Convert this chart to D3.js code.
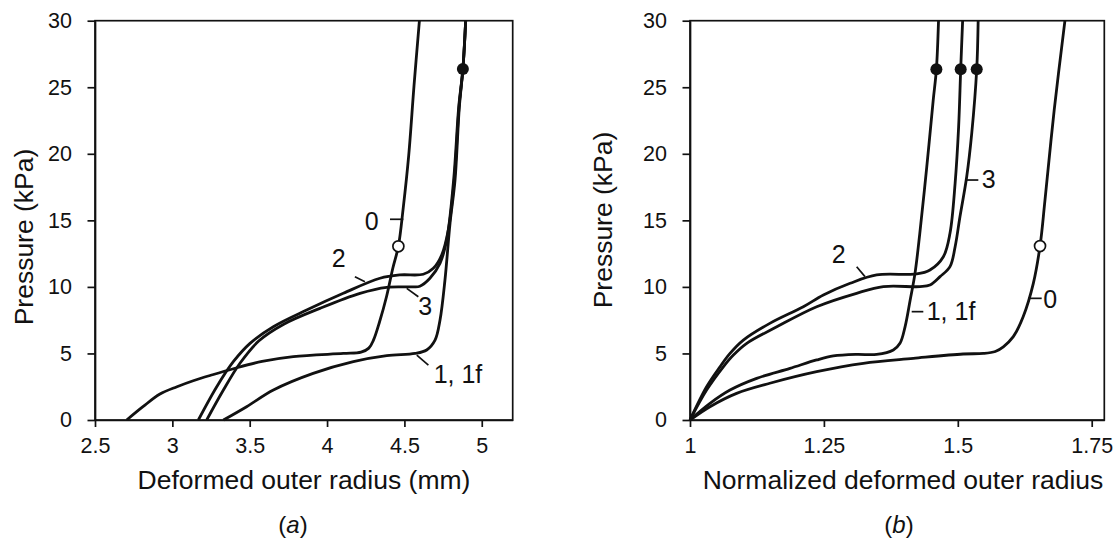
<!DOCTYPE html>
<html>
<head>
<meta charset="utf-8">
<script src="https://cdn.jsdelivr.net/npm/d3@7"></script>
<style>
  html, body { margin: 0; padding: 0; background: #fff; }
  text { font-family: "Liberation Sans", Arial, sans-serif; fill: #111; }
</style>
</head>
<body>
<div id="chart"></div>
<script>
// ---- data: [radius, pressure kPa] ----
// panel (a): deformed outer radius (mm)
const a0 = [[2.705,0],[2.81,1.0],[2.92,1.95],[3.03,2.5],[3.135,2.95],[3.26,3.4],[3.394,3.85],[3.58,4.4],[3.782,4.76],[4.105,5.0],[4.22,5.1],[4.27,5.4],[4.30,6.0],[4.34,7.4],[4.385,9.3],[4.425,11.4],[4.461,13.05],[4.493,16.0],[4.528,19.9],[4.562,25.1],[4.597,30]];
const a1 = [[3.33,0],[3.48,1.0],[3.653,2.25],[3.91,3.5],[4.17,4.38],[4.386,4.83],[4.569,5.0],[4.644,5.26],[4.698,6.0],[4.73,7.5],[4.762,10.5],[4.795,14.8],[4.827,18],[4.855,23.5],[4.878,26.37],[4.896,30]];
const a2 = [[3.168,0],[3.287,2.5],[3.394,4.38],[3.502,5.76],[3.653,7.01],[3.868,8.26],[4.105,9.52],[4.342,10.65],[4.471,10.9],[4.622,10.95],[4.687,11.4],[4.741,12.4],[4.784,14.3],[4.822,18],[4.853,23.5],[4.878,26.37],[4.896,30]];
const a3 = [[3.222,0],[3.33,2.25],[3.437,4.26],[3.56,5.95],[3.72,7.2],[3.954,8.39],[4.213,9.52],[4.386,9.97],[4.558,10.0],[4.60,10.05],[4.665,10.65],[4.73,11.77],[4.773,13.5],[4.818,18],[4.851,23.5],[4.878,26.37],[4.896,30]];
const aOpen = [[4.461,13.05]];
const aFilled = [[4.878,26.37]];

// panel (b): normalized deformed outer radius
const b0 = [[1,0],[1.0373,1.0],[1.087,2.0],[1.149,2.76],[1.2365,3.63],[1.3236,4.26],[1.417,4.63],[1.51,4.96],[1.5476,5.0],[1.57,5.15],[1.585,5.5],[1.6036,6.26],[1.622,7.76],[1.641,10.27],[1.6535,13.07],[1.6627,16.5],[1.68,23.3],[1.70,30]];
const b1 = [[1,0],[1.0373,1.25],[1.0747,2.25],[1.1245,3.13],[1.1867,3.88],[1.2365,4.51],[1.2676,4.81],[1.311,4.93],[1.3485,4.93],[1.3796,5.26],[1.392,5.76],[1.4015,7.0],[1.411,9.0],[1.42,11.0],[1.429,14.0],[1.442,19.0],[1.454,24.0],[1.46,26.35],[1.464,30]];
const b2 = [[1,0],[1.031,2.5],[1.056,4.0],[1.0747,5.0],[1.0996,6.0],[1.149,7.26],[1.2116,8.51],[1.249,9.39],[1.299,10.27],[1.3485,10.9],[1.4232,10.97],[1.448,11.27],[1.473,12.27],[1.4854,14.03],[1.495,17.8],[1.5015,22.0],[1.5054,26.35],[1.509,30]];
const b3 = [[1,0],[1.031,2.25],[1.0622,4.0],[1.081,4.88],[1.106,5.76],[1.162,7.0],[1.2365,8.51],[1.311,9.52],[1.361,10.02],[1.4294,10.02],[1.448,10.14],[1.4668,10.77],[1.4854,11.52],[1.495,13.02],[1.504,15.27],[1.5166,18.28],[1.526,21.54],[1.5353,26.35],[1.538,30]];
const bOpen = [[1.6535,13.07]];
const bFilled = [[1.46,26.35],[1.5054,26.35],[1.5353,26.35]];

// tick values
const aTicksX = [2.5, 3, 3.5, 4, 4.5, 5];
const bTicksX = [1, 1.25, 1.5, 1.75];
const ticksY = [0, 5, 10, 15, 20, 25, 30];

// curve labels: text, anchor (data units), leader line (data units)
const aLabels = [
  { text: "0", at: [4.244, 14.27], lead: [[4.407, 15.08], [4.493, 15.08]] },
  { text: "2", at: [4.03, 11.47], lead: [[4.18, 10.77], [4.245, 10.39]] },
  { text: "3", at: [4.59, 7.89], lead: [[4.515, 9.89], [4.59, 9.26]] },
  { text: "1, 1f", at: [4.689, 2.78], lead: [[4.58, 4.88], [4.655, 4.13]] }
];
const bLabels = [
  { text: "2", at: [1.2646, 11.77], lead: [[1.3112, 11.52], [1.3267, 10.77]] },
  { text: "3", at: [1.5446, 17.41], lead: [[1.5134, 18.03], [1.5383, 18.03]] },
  { text: "1, 1f", at: [1.4419, 7.51], lead: [[1.4139, 8.14], [1.4356, 8.14]] },
  { text: "0", at: [1.6597, 8.39], lead: [[1.6316, 9.14], [1.6566, 9.14]] }
];

const W = 1115, H = 541;
const svg = d3.select("#chart").append("svg")
  .attr("width", W).attr("height", H)
  .style("background", "#fff");

function drawPanel(p) {
  const x = d3.scaleLinear().domain(p.xDomain).range(p.xRange);
  const y = d3.scaleLinear().domain([0, 30]).range([420, 20.7]);
  const g = svg.append("g");

  // frame (top + right)
  g.append("rect")
    .attr("x", p.xRange[0]).attr("y", y(30))
    .attr("width", p.xRange[1] - p.xRange[0]).attr("height", y(0) - y(30))
    .attr("fill", "none").attr("stroke", "#111").attr("stroke-width", 1.7);

  const xAxis = g.append("g")
    .attr("transform", `translate(0,${y(0)})`)
    .call(d3.axisBottom(x).tickValues(p.ticksX).tickFormat(d => String(d))
      .tickSize(7).tickSizeOuter(0).tickPadding(11));
  const yAxis = g.append("g")
    .attr("transform", `translate(${p.xRange[0]},0)`)
    .call(d3.axisLeft(y).tickValues(ticksY).tickSize(7.5).tickSizeOuter(0).tickPadding(15.5));

  [xAxis, yAxis].forEach(ax => {
    ax.select(".domain").attr("stroke", "#111").attr("stroke-width", 1.7);
    ax.selectAll(".tick line").attr("stroke", "#111").attr("stroke-width", 1.7);
    ax.selectAll(".tick text")
      .attr("font-family", "Liberation Sans, Arial, sans-serif")
      .attr("font-size", 21.5).attr("fill", "#111");
  });

  const line = d3.line()
    .x(d => x(d[0])).y(d => y(d[1]))
    .curve(d3.curveCatmullRom.alpha(0.5));

  p.curves.forEach(c => {
    g.append("path")
      .attr("d", line(c))
      .attr("fill", "none")
      .attr("stroke", "#111")
      .attr("stroke-width", 2.8)
      .attr("stroke-linejoin", "round");
  });

  // leader lines + curve labels
  p.labels.forEach(l => {
    g.append("line")
      .attr("x1", x(l.lead[0][0])).attr("y1", y(l.lead[0][1]))
      .attr("x2", x(l.lead[1][0])).attr("y2", y(l.lead[1][1]))
      .attr("stroke", "#111").attr("stroke-width", 1.7);
    g.append("text")
      .attr("x", x(l.at[0])).attr("y", y(l.at[1]))
      .attr("font-size", 25)
      .text(l.text);
  });

  g.selectAll(".open").data(p.open).join("circle")
    .attr("cx", d => x(d[0])).attr("cy", d => y(d[1])).attr("r", 5.5)
    .attr("fill", "#fff").attr("stroke", "#111").attr("stroke-width", 1.7);
  g.selectAll(".filled").data(p.filled).join("circle")
    .attr("cx", d => x(d[0])).attr("cy", d => y(d[1])).attr("r", 6)
    .attr("fill", "#111");

  // axis titles
  g.append("text")
    .attr("x", p.xTitleX).attr("y", 489)
    .attr("text-anchor", "middle").attr("font-size", 26.5)
    .text(p.xTitle);
  g.append("text")
    .attr("transform", `translate(${p.yTitleX},${p.yTitleY}) rotate(-90)`)
    .attr("text-anchor", "middle").attr("font-size", 26.5)
    .text("Pressure (kPa)");

  const cap = g.append("text")
    .attr("x", p.capX).attr("y", 533)
    .attr("text-anchor", "middle").attr("font-size", 24);
  cap.append("tspan").text("(");
  cap.append("tspan").attr("font-style", "italic").text(p.cap);
  cap.append("tspan").text(")");
}

drawPanel({
  xDomain: [2.5, 5.2], xRange: [95, 512.7], ticksX: aTicksX,
  curves: [a0, a1, a2, a3], open: aOpen, filled: aFilled, labels: aLabels,
  xTitle: "Deformed outer radius (mm)", xTitleX: 304,
  yTitleX: 33, yTitleY: 237, capX: 293, cap: "a"
});
drawPanel({
  xDomain: [1, 1.7735], xRange: [690, 1104.3], ticksX: bTicksX,
  curves: [b0, b1, b2, b3], open: bOpen, filled: bFilled, labels: bLabels,
  xTitle: "Normalized deformed outer radius", xTitleX: 903,
  yTitleX: 612, yTitleY: 220, capX: 899, cap: "b"
});
</script>
</body>
</html>
